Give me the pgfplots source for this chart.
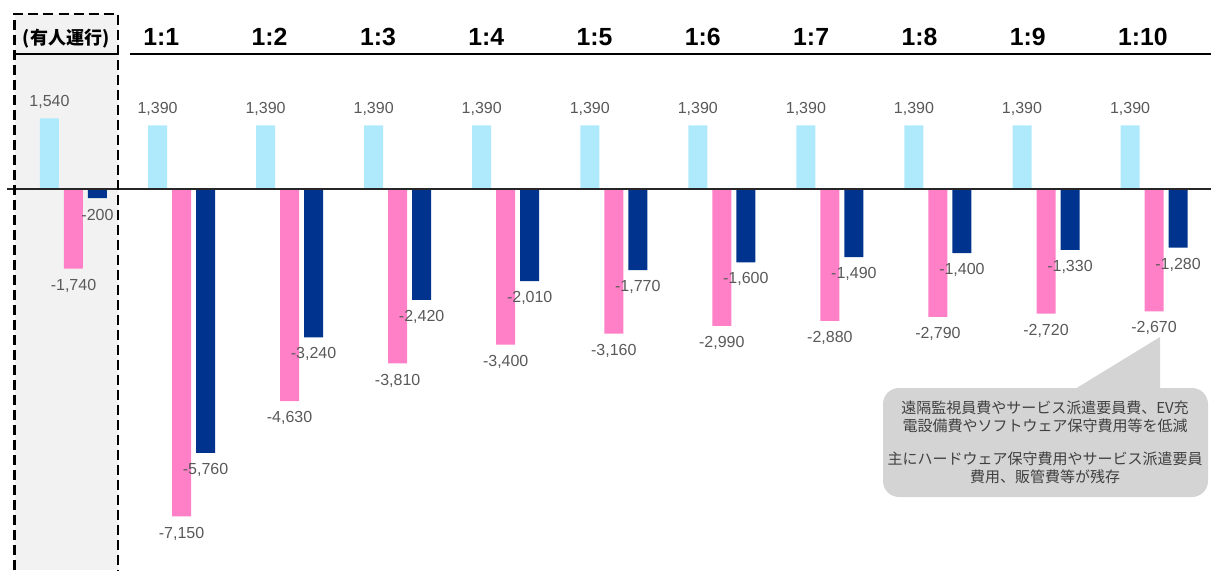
\documentclass[border=0pt]{standalone}
\usepackage{pgfplots}
\pgfplotsset{compat=1.18}
\usepackage{fontspec}
\setmainfont{Liberation Sans}
\newfontfamily\jp{Noto Sans CJK JP}
\definecolor{cy}{RGB}{174,234,252}
\definecolor{pk}{RGB}{255,128,198}
\definecolor{nv}{RGB}{0,51,141}
\definecolor{lbl}{RGB}{89,89,89}
\definecolor{bg}{RGB}{242,242,242}
\definecolor{co}{RGB}{212,212,212}
\definecolor{cotext}{RGB}{64,64,64}
\pgfplotsset{/pgf/number format/1000 sep={,}, /pgf/number format/assume math mode=true}
\begin{document}
\begin{tikzpicture}
\begin{scope}[x=0.5pt,y=-0.5pt,yshift=285pt]
\fill[bg] (14.5,14) rectangle (118,570);
\end{scope}
\begin{axis}[at={(0,0)}, anchor=south west, scale only axis,
  width=605.5pt, height=285pt,
  xmin=-0.680, xmax=10.527, ymin=-8318.8, ymax=4126.6,
  axis lines=none, clip=false]
\addplot[ybar, bar width=9.5pt, bar shift=-12pt, fill=cy, draw=none,
  nodes near coords,
  every node near coord/.append style={anchor=center, xshift=-12pt, yshift=8.4pt, font=\fontsize{8pt}{9pt}\selectfont, text=lbl}]
  coordinates {(0,1540) (1,1390) (2,1390) (3,1390) (4,1390) (5,1390) (6,1390) (7,1390) (8,1390) (9,1390) (10,1390)};
\addplot[ybar, bar width=9.5pt, bar shift=0pt, fill=pk, draw=none,
  nodes near coords,
  every node near coord/.append style={anchor=center, yshift=-8.5pt, font=\fontsize{8pt}{9pt}\selectfont, text=lbl}]
  coordinates {(0,-1740) (1,-7150) (2,-4630) (3,-3810) (4,-3400) (5,-3160) (6,-2990) (7,-2880) (8,-2790) (9,-2720) (10,-2670)};
\addplot[ybar, bar width=9.5pt, bar shift=12pt, fill=nv, draw=none,
  nodes near coords,
  every node near coord/.append style={anchor=center, xshift=12pt, yshift=-8.5pt, font=\fontsize{8pt}{9pt}\selectfont, text=lbl}]
  coordinates {(0,-200) (1,-5760) (2,-3240) (3,-2420) (4,-2010) (5,-1770) (6,-1600) (7,-1490) (8,-1400) (9,-1330) (10,-1280)};
\end{axis}
\begin{scope}[x=0.5pt,y=-0.5pt,yshift=285pt]
\draw[line width=1pt, black!85] (7,189) -- (1211,189);
\draw[dash pattern=on 5pt off 2.5pt, line width=1.4pt] (14.5,570) -- (14.5,14) -- (118,14) -- (118,570);
\draw[line width=1pt] (13,53.5) -- (117,53.5);
\draw[line width=1pt] (130,53.5) -- (1211,53.5);
\node[anchor=center, font=\jp\bfseries\fontsize{9pt}{10pt}\selectfont] at (66,39) {(有人運行)};
\foreach \i in {1,...,10} {
  \node[anchor=base west, inner sep=0pt, font=\bfseries\fontsize{12.4pt}{14pt}\selectfont] at ({143+108.3*(\i-1)},45) {1:\i};
}
\fill[co, rounded corners=8pt] (883,388) rectangle (1208,497);
\fill[co] (1075,389) -- (1160,337) -- (1160,389) -- cycle;
\node[align=center, text=cotext, font=\jp\fontsize{7.5pt}{9pt}\selectfont] at (1045,442.5)
  {遠隔監視員費やサービス派遣要員費、EV充\\電設備費やソフトウェア保守費用等を低減\\[7.5pt]主にハードウェア保守費用やサービス派遣要員\\費用、販管費等が残存};
\end{scope}
\pgfresetboundingbox
\path (0,0) rectangle (605.5pt,285pt);
\end{tikzpicture}
\end{document}
